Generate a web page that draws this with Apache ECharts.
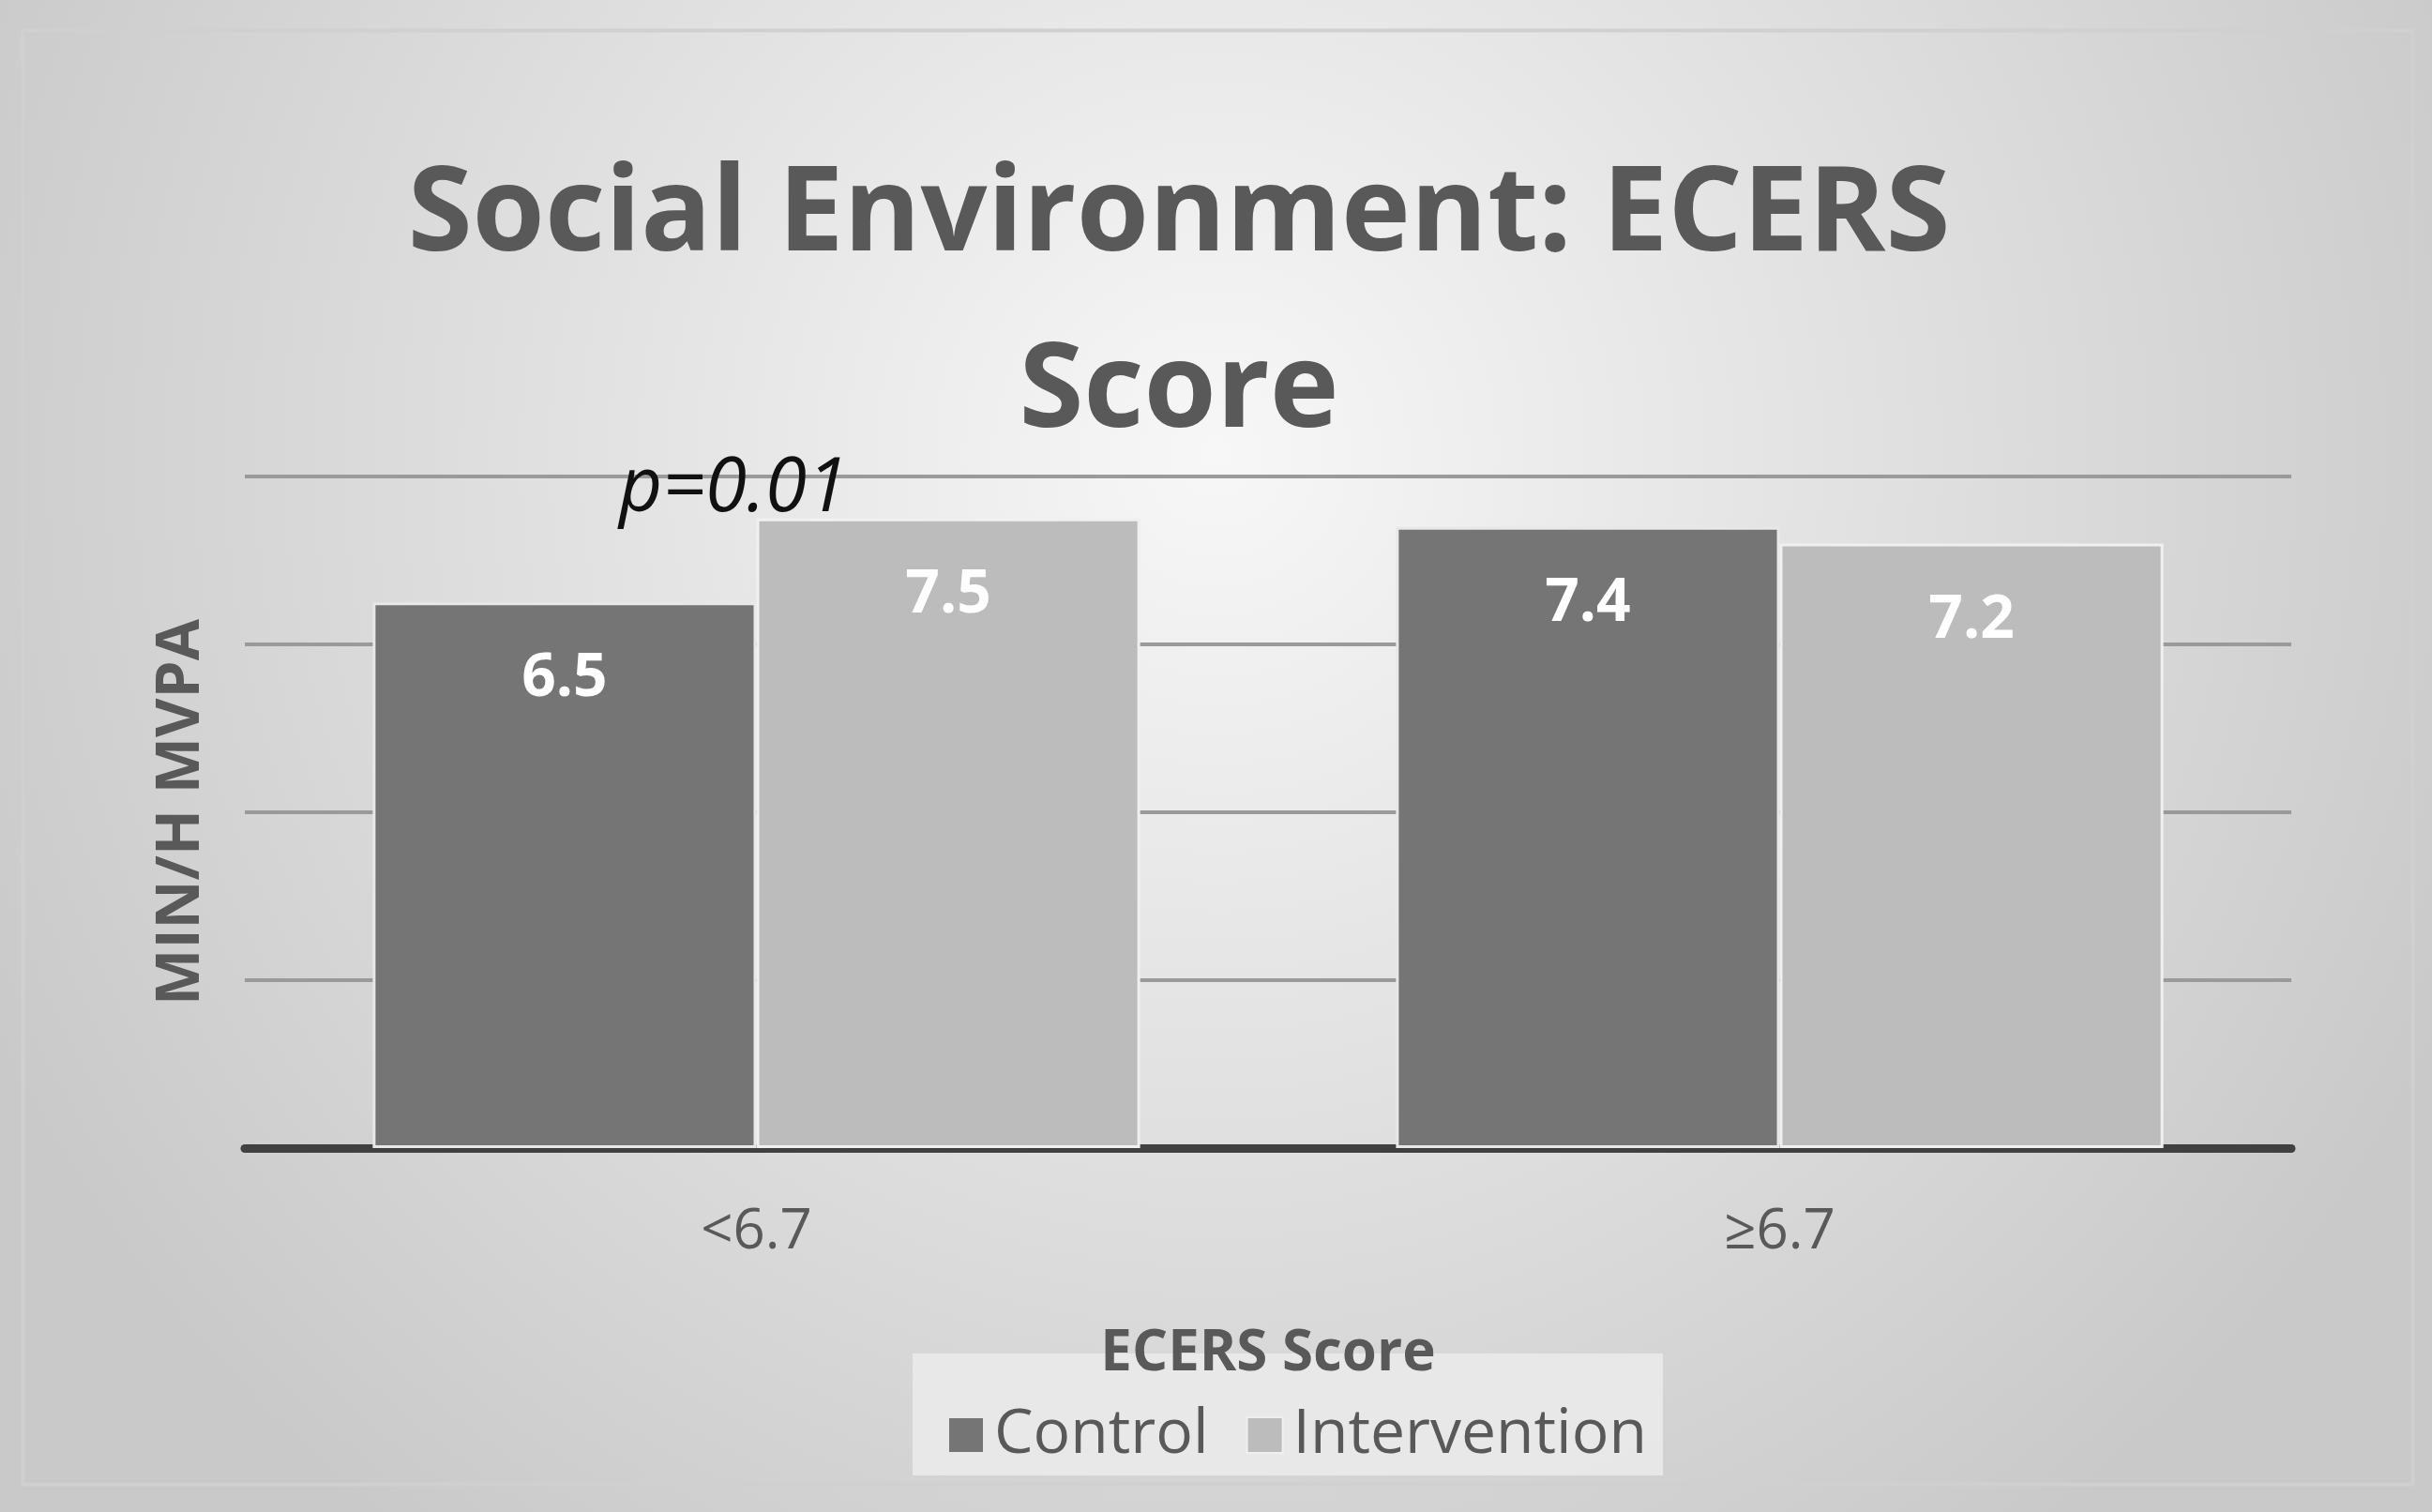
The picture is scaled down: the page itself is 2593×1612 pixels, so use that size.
<!DOCTYPE html>
<html>
<head>
<meta charset="utf-8">
<script src="https://cdn.jsdelivr.net/npm/echarts@6/dist/echarts.min.js"></script>
<style>
html,body{margin:0;padding:0;background:#fff;}
#chart{width:2593px;height:1612px;}
</style>
</head>
<body>
<div id="chart"></div>
<script>
// data
var categories = ['<6.7', '≥6.7'];
var controlValues = [6.5, 7.4];
var interventionValues = [7.5, 7.2];
var seriesNames = ['Control', 'Intervention'];

var font = 'Open Sans';
var myChart = echarts.init(document.getElementById('chart'));

var labelStyle = {
    show: true,
    position: 'insideTop',
    distance: 50,
    color: '#fff',
    fontWeight: 'bold',
    fontSize: 64,
    fontFamily: font
};

myChart.setOption({
    backgroundColor: {
        type: 'radial', x: 0.5, y: 0.3, r: 0.9,
        colorStops: [{offset: 0, color: '#f7f7f7'}, {offset: 1, color: '#c9c9c9'}]
    },
    animation: false,
    title: {
        text: 'Social Environment: ECERS\nScore',
        left: 1252, top: 132, textAlign: 'center',
        textStyle: {color: '#595959', fontSize: 125, fontWeight: 'bold', fontFamily: font, lineHeight: 188}
    },
    graphic: [
        {type: 'rect', left: 22, top: 30, shape: {width: 2548, height: 1550},
         style: {fill: 'none', stroke: '#d0d0d0', lineWidth: 4}, silent: true},
        {type: 'rect', left: 973, top: 1443, shape: {width: 800, height: 130},
         style: {fill: 'rgba(235,235,235,0.85)'}, z: 0},
        {type: 'text', left: 660, top: 482, z: 10,
         style: {text: 'p=0.01', fontSize: 80, fontStyle: 'italic', fill: '#111', fontFamily: font}}
    ],
    grid: {left: 261, right: 150, top: 508, bottom: 388},
    legend: {
        data: seriesNames, bottom: 44, left: 1005,
        icon: 'rect',
        itemWidth: 38, itemHeight: 38, itemGap: 40,
        textStyle: {color: '#595959', fontSize: 66, fontFamily: font, padding: [0, 0, 0, 6]}
    },
    xAxis: {
        type: 'category', data: categories,
        name: 'ECERS Score', nameLocation: 'middle', nameGap: 190,
        nameTextStyle: {color: '#595959', fontSize: 60, fontWeight: 'bold', fontFamily: font},
        axisLine: {lineStyle: {color: '#404040', width: 9}},
        axisTick: {show: false},
        axisLabel: {color: '#595959', fontSize: 60, margin: 60, fontFamily: font}
    },
    yAxis: {
        type: 'value', min: 0, max: 8, interval: 2,
        name: 'MIN/H MVPA', nameLocation: 'middle', nameGap: 35,
        nameTextStyle: {color: '#595959', fontSize: 64, fontWeight: 'bold', fontFamily: font},
        axisLabel: {show: false},
        axisLine: {show: false},
        axisTick: {show: false},
        splitLine: {lineStyle: {color: '#9a9a9a', width: 4}}
    },
    series: [
        {name: seriesNames[0], type: 'bar', data: controlValues, barGap: '0%', barCategoryGap: '25%',
         itemStyle: {color: '#757575', borderColor: '#e8e8e8', borderWidth: 3}, label: labelStyle},
        {name: seriesNames[1], type: 'bar', data: interventionValues,
         itemStyle: {color: '#bcbcbc', borderColor: '#f0f0f0', borderWidth: 3}, label: labelStyle}
    ]
});
</script>
</body>
</html>
